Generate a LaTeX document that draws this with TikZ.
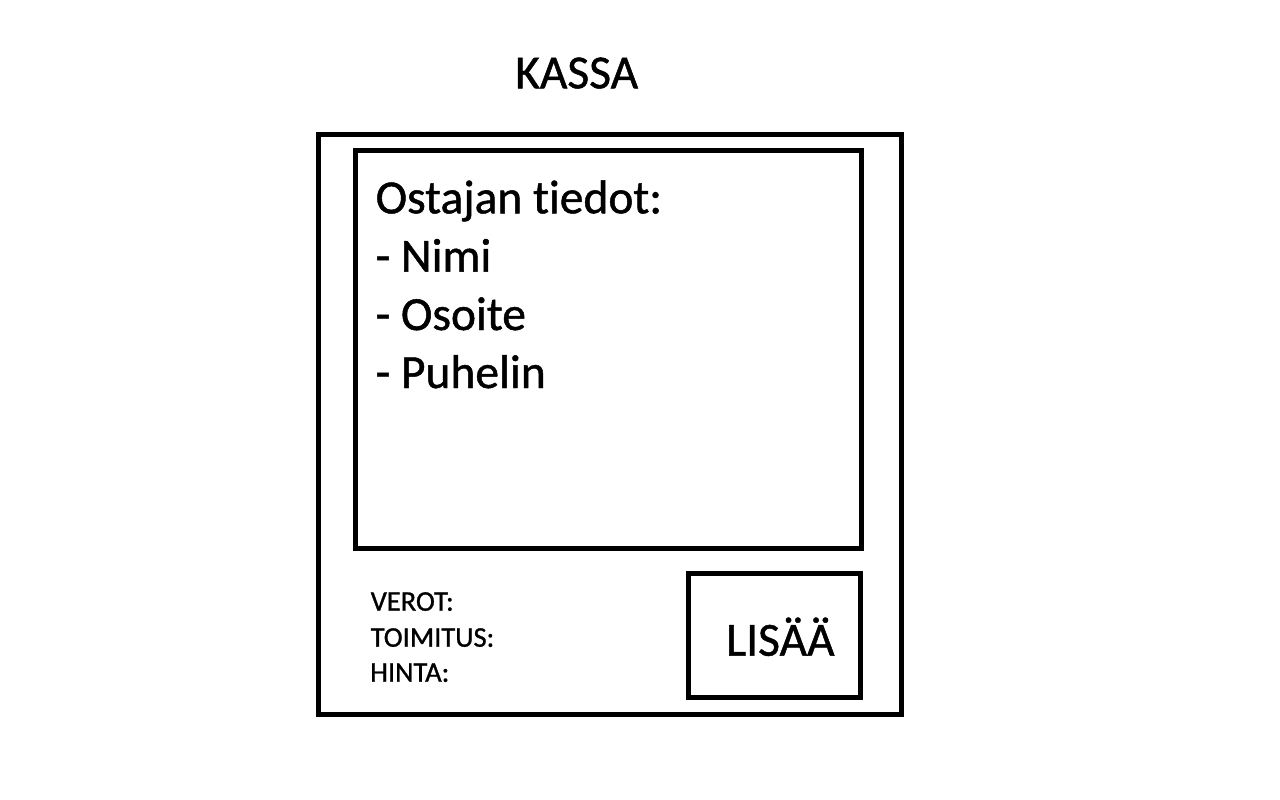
\documentclass[tikz,border=0pt]{standalone}
\usepackage{fontspec}
\setmainfont[FakeBold=1,RawFeature=-liga]{Carlito}
\begin{document}
\begin{tikzpicture}[x=1pt,y=-1pt,
  frame/.style={draw=black,line width=5pt},
  big/.style={inner sep=0pt,anchor=base west,font=\fontsize{47.5}{56}\selectfont},
  small/.style={inner sep=0pt,anchor=base west,font=\fontsize{28.5}{34}\selectfont}]
\useasboundingbox[fill=white] (0,0) rectangle (1280,800);
\draw[frame] (318,134.8) rectangle (901.5,714.8);
\draw[frame] (355,150) rectangle (861.5,548);
\draw[frame] (688.5,573) rectangle (860,697.5);
\node[big] (kassa) at (515,88.3) {KASSA};
\node[big] (ost) at (375.5,213.3) {Ostajan tiedot:};
\node[big] (nimi) at (375.5,271.7) {- Nimi};
\node[big] (osoite) at (375.5,330) {- Osoite};
\node[big] (puh) at (375.5,388) {- Puhelin};
\node[small] (verot) at (370.5,610.7) {VEROT:};
\node[small] (toim) at (370.5,646.7) {TOIMITUS:};
\node[small] (hinta) at (370,681.7) {HINTA:};
\node[big] (lisaa) at (726,655.7) {LISÄÄ};
\end{tikzpicture}
\end{document}
